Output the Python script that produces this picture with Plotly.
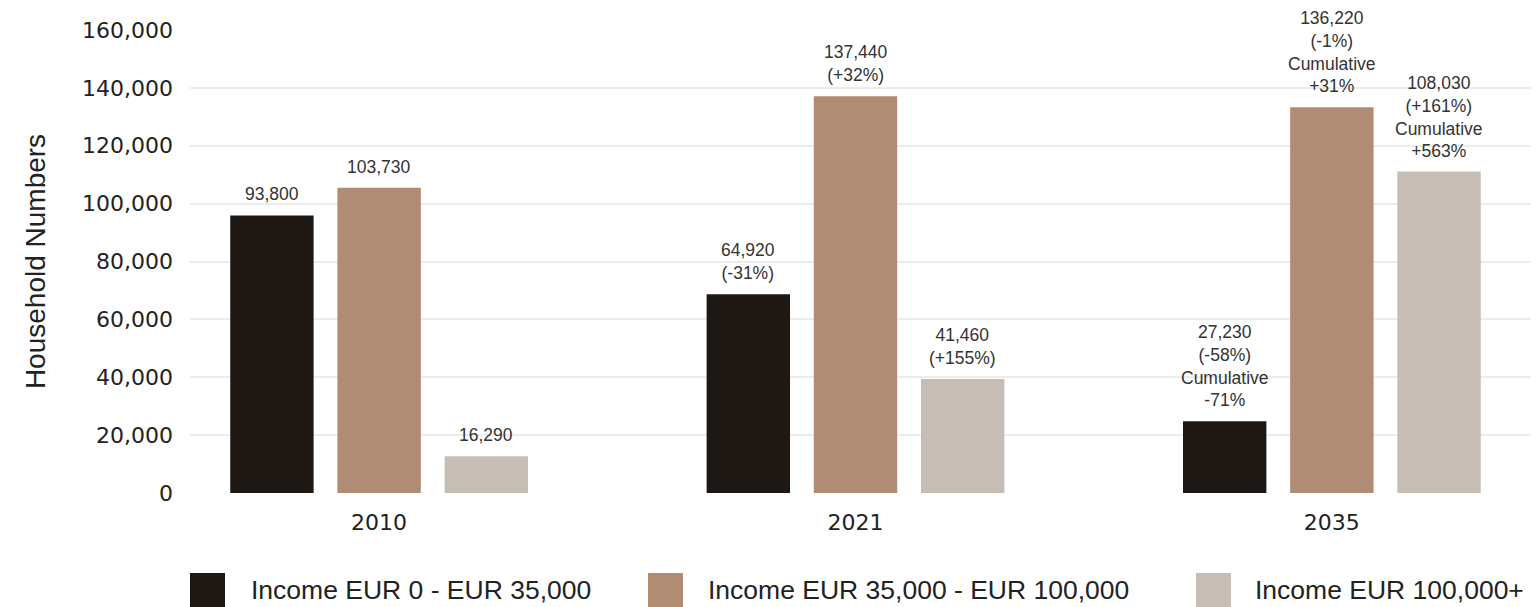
import plotly.graph_objects as go

years = ['2010', '2021', '2035']
series_names = ['Income EUR 0 - EUR 35,000',
                'Income EUR 35,000 - EUR 100,000',
                'Income EUR 100,000+']
low_income = [95900, 68700, 24800]
mid_income = [105500, 137100, 133300]
high_income = [12700, 39400, 111100]
low_labels = ['93,800', '64,920<br>(-31%)', '27,230<br>(-58%)<br>Cumulative<br>-71%']
mid_labels = ['103,730', '137,440<br>(+32%)', '136,220<br>(-1%)<br>Cumulative<br>+31%']
high_labels = ['16,290', '41,460<br>(+155%)', '108,030<br>(+161%)<br>Cumulative<br>+563%']
y_ticks = [0, 20000, 40000, 60000, 80000, 100000, 120000, 140000, 160000]

colors = ['#1e1815', '#af8c73', '#c6beb4']

# the page body adds an 8px margin, so the figure is drawn from (8, 8)
PAGE = 8
W, H = 1539 - PAGE, 607 - PAGE
L, R, T, B = 190 - PAGE, 8, 30 - PAGE, 607 - 493
plot_w = W - L - R
plot_h = H - T - B


def px_x(p):
    # page pixel -> paper x
    return (p - PAGE - L) / plot_w


def px_y(p):
    # page pixel -> paper y
    return (H - B - (p - PAGE)) / plot_h


fig = go.Figure()
values = [low_income, mid_income, high_income]
labels = [low_labels, mid_labels, high_labels]
for name, vals, col in zip(series_names, values, colors):
    fig.add_trace(go.Bar(x=years, y=vals, name=name, marker=dict(color=col, line=dict(width=0)),
                         showlegend=False))

# value labels above bars
offsets = [-0.225, 0, 0.225]
annotations = []
for vals, labs, off in zip(values, labels, offsets):
    for i, (v, t) in enumerate(zip(vals, labs)):
        annotations.append(dict(x=i + off, y=v, xref='x', yref='y', text=t, showarrow=False,
                                yanchor='bottom', yshift=9,
                                font=dict(family='Liberation Sans', size=17.5, color='#333333')))

# custom legend with large square keys
shapes = []
legend_boxes = [190, 648, 1196]
legend_text = [249, 706, 1253]
for name, col, bx, tx in zip(series_names, colors, legend_boxes, legend_text):
    shapes.append(dict(type='rect', xref='paper', yref='paper', x0=px_x(bx), x1=px_x(bx + 35),
                       y0=px_y(573), y1=px_y(610), fillcolor=col, line=dict(width=0)))
    annotations.append(dict(x=px_x(tx), y=px_y(590), xref='paper', yref='paper', text=name,
                            showarrow=False, xanchor='left', yanchor='middle',
                            font=dict(family='Liberation Sans', size=26.5, color='#222222')))

fig.update_layout(
    width=W, height=H,
    margin=dict(l=L, r=R, t=T, b=B, autoexpand=False),
    plot_bgcolor='white', paper_bgcolor='white',
    barmode='group', bargap=0.325, bargroupgap=0.222,
    annotations=annotations, shapes=shapes,
    showlegend=False,
)
fig.update_xaxes(range=[-0.397, 2.418], showgrid=False, zeroline=False, showline=False,
                 ticklabelstandoff=14,
                 tickfont=dict(family='DejaVu Sans', size=22, color='#222222'))
fig.update_yaxes(range=[0, 160000], tickvals=y_ticks, tickformat=',', showgrid=True,
                 gridcolor='#ececec', gridwidth=2, zeroline=False, showline=False,
                 ticklabelstandoff=16,
                 tickfont=dict(family='DejaVu Sans', size=22, color='#222222'),
                 title=dict(text='Household Numbers', standoff=28,
                            font=dict(family='Liberation Sans', size=28, color='#222222')))

fig.write_html('out.html')
